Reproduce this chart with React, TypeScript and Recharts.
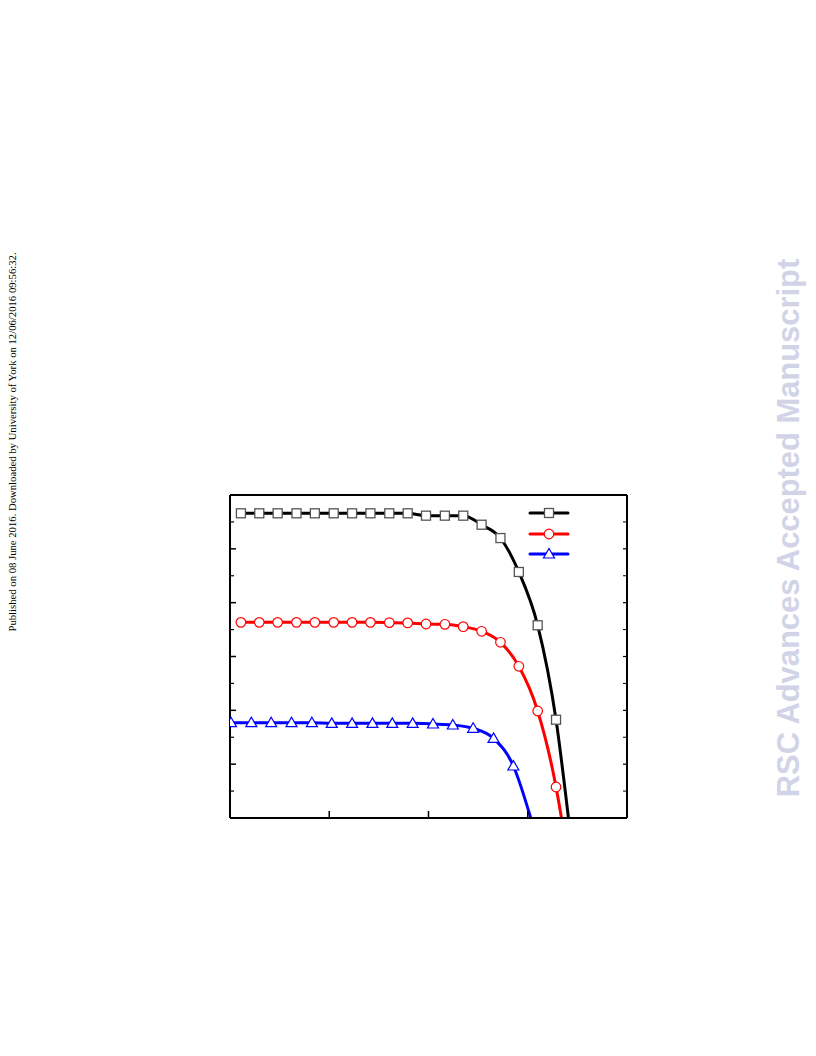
import React from "react";
import { LineChart, Line, XAxis, YAxis, Legend } from "recharts";

// voltage (V) and current density
const blackV = [0.022, 0.059, 0.096, 0.134, 0.171, 0.209, 0.246, 0.283, 0.321, 0.358, 0.395, 0.433, 0.47, 0.507, 0.545, 0.582, 0.62, 0.657, 0.682];
const blackJ = [28.3, 28.3, 28.3, 28.3, 28.3, 28.3, 28.3, 28.3, 28.3, 28.3, 28.08, 28.08, 28.08, 27.24, 26.0, 22.85, 17.9, 9.13, 0];

const redV = [0.022, 0.059, 0.096, 0.134, 0.171, 0.209, 0.246, 0.283, 0.321, 0.358, 0.395, 0.433, 0.47, 0.507, 0.545, 0.582, 0.62, 0.657, 0.668];
const redJ = [18.17, 18.17, 18.17, 18.17, 18.17, 18.17, 18.17, 18.17, 18.15, 18.12, 18.02, 17.99, 17.77, 17.34, 16.32, 14.09, 9.94, 2.88, 0];

const blueV = [0.002, 0.043, 0.083, 0.124, 0.165, 0.205, 0.246, 0.287, 0.327, 0.368, 0.409, 0.449, 0.49, 0.531, 0.571, 0.606];
const blueJ = [8.85, 8.85, 8.85, 8.85, 8.85, 8.79, 8.79, 8.79, 8.79, 8.79, 8.73, 8.64, 8.33, 7.4, 4.83, 0];

const xMajor = [0, 0.2, 0.4, 0.6, 0.8];
const xMinor = [0.1, 0.3, 0.5, 0.7];
const yMajor = [0, 5, 10, 15, 20, 25, 30];
const yMinor = [2.5, 7.5, 12.5, 17.5, 22.5, 27.5];

type Pt = { v: number; j: number; mark: boolean };

const toPoints = (v: number[], j: number[]): Pt[] =>
  v.map((x, i) => ({ v: x, j: j[i], mark: j[i] > 0 }));

const series = [
  { key: "black", color: "#000000", edge: "#555555", shape: "square", data: toPoints(blackV, blackJ) },
  { key: "red", color: "#ff0000", edge: "#ff0000", shape: "circle", data: toPoints(redV, redJ) },
  { key: "blue", color: "#0000ff", edge: "#0000ff", shape: "triangle", data: toPoints(blueV, blueJ) },
];

function marker(shape: string, cx: number, cy: number, edge: string, key?: string | number) {
  if (shape === "square")
    return <rect key={key} x={cx - 4.5} y={cy - 4.5} width={9} height={9} fill="#fff" stroke={edge} strokeWidth={1.3} />;
  if (shape === "circle")
    return <circle key={key} cx={cx} cy={cy} r={4.8} fill="#fff" stroke={edge} strokeWidth={1.2} />;
  return (
    <polygon
      key={key}
      points={`${cx},${cy - 5.5} ${cx + 5.5},${cy + 4} ${cx - 5.5},${cy + 4}`}
      fill="#fff"
      stroke={edge}
      strokeWidth={1.2}
    />
  );
}

const makeDot = (shape: string, edge: string) => (props: any) => {
  const { cx, cy, payload, index } = props;
  if (!payload.mark || cx == null || cy == null) return <g key={`d${index}`} />;
  return marker(shape, cx, cy, edge, `d${index}`);
};

function LegendBox() {
  return (
    <div>
      {series.map((s) => (
        <svg key={s.key} width={44} height={20.5} style={{ display: "block" }}>
          <line x1={2} x2={40} y1={10} y2={10} stroke={s.color} strokeWidth={3} strokeLinecap="round" />
          {marker(s.shape, 21, 10, s.edge)}
        </svg>
      ))}
    </div>
  );
}

const noLabel = () => "";

const axisCommon = {
  type: "number" as const,
  allowDataOverflow: true,
  mirror: true,
  tick: { fill: "none", fontSize: 1 },
  tickFormatter: noLabel,
  stroke: "#000",
};

export default function App() {
  return (
    <div style={{ position: "absolute", left: 0, top: 0, width: 816, height: 1056, background: "#fff" }}>
      <LineChart width={816} height={1056} margin={{ top: 495, left: 230, right: 189, bottom: 238 }}>
        <XAxis {...axisCommon} xAxisId="b" dataKey="v" domain={[0, 0.8]} ticks={xMajor} interval={0} tickSize={7} height={1} axisLine={{ strokeWidth: 2 }} tickLine={{ strokeWidth: 1.5 }} />
        <XAxis {...axisCommon} xAxisId="bm" domain={[0, 0.8]} ticks={xMinor} interval={0} tickSize={3} height={1} axisLine={false} tickLine={{ strokeWidth: 1.2 }} />
        <XAxis {...axisCommon} xAxisId="t" orientation="top" domain={[0, 0.8]} ticks={xMajor} interval={0} tickSize={4} height={1} axisLine={{ strokeWidth: 2 }} tickLine={{ strokeWidth: 1.2 }} />
        <XAxis {...axisCommon} xAxisId="tm" orientation="top" domain={[0, 0.8]} ticks={xMinor} interval={0} tickSize={3} height={1} axisLine={false} tickLine={{ strokeWidth: 1 }} />
        <YAxis {...axisCommon} yAxisId="l" domain={[0, 30]} ticks={yMajor} interval={0} tickSize={6} width={1} axisLine={{ strokeWidth: 2 }} tickLine={{ strokeWidth: 1.5 }} />
        <YAxis {...axisCommon} yAxisId="lm" domain={[0, 30]} ticks={yMinor} interval={0} tickSize={3} width={1} axisLine={false} tickLine={{ strokeWidth: 1.2 }} />
        <YAxis {...axisCommon} yAxisId="r" orientation="right" domain={[0, 30]} ticks={yMajor} interval={0} tickSize={4} width={1} axisLine={{ strokeWidth: 2 }} tickLine={{ strokeWidth: 1.2 }} />
        <YAxis {...axisCommon} yAxisId="rm" orientation="right" domain={[0, 30]} ticks={yMinor} interval={0} tickSize={3} width={1} axisLine={false} tickLine={{ strokeWidth: 1 }} />
        {series.map((s) => (
          <Line
            key={s.key}
            xAxisId="b"
            yAxisId="l"
            data={s.data}
            dataKey="j"
            type="monotone"
            stroke={s.color}
            strokeWidth={3}
            dot={makeDot(s.shape, s.edge)}
            activeDot={false}
            isAnimationActive={false}
            legendType="none"
          />
        ))}
        <Legend
          layout="vertical"
          align="center"
          verticalAlign="middle"
          content={() => <LegendBox />}
          wrapperStyle={{ left: 528, top: 503, width: 44, height: 62 }}
        />
      </LineChart>
      <svg width={816} height={1056} style={{ position: "absolute", left: 0, top: 0, pointerEvents: "none" }}>
        <text
          transform="translate(12,442) rotate(-90)"
          textAnchor="middle"
          dominantBaseline="central"
          fontFamily="'Liberation Serif', serif"
          fontSize={10.7}
          fill="#000"
        >
          Published on 08 June 2016. Downloaded by University of York on 12/06/2016 09:56:32.
        </text>
        <text
          transform="translate(788,528) rotate(-90)"
          textAnchor="middle"
          dominantBaseline="central"
          fontFamily="'Liberation Sans', Arial, sans-serif"
          fontWeight="bold"
          fontSize={30.9}
          fill="#d3d3e7"
        >
          RSC Advances Accepted Manuscript
        </text>
      </svg>
    </div>
  );
}
